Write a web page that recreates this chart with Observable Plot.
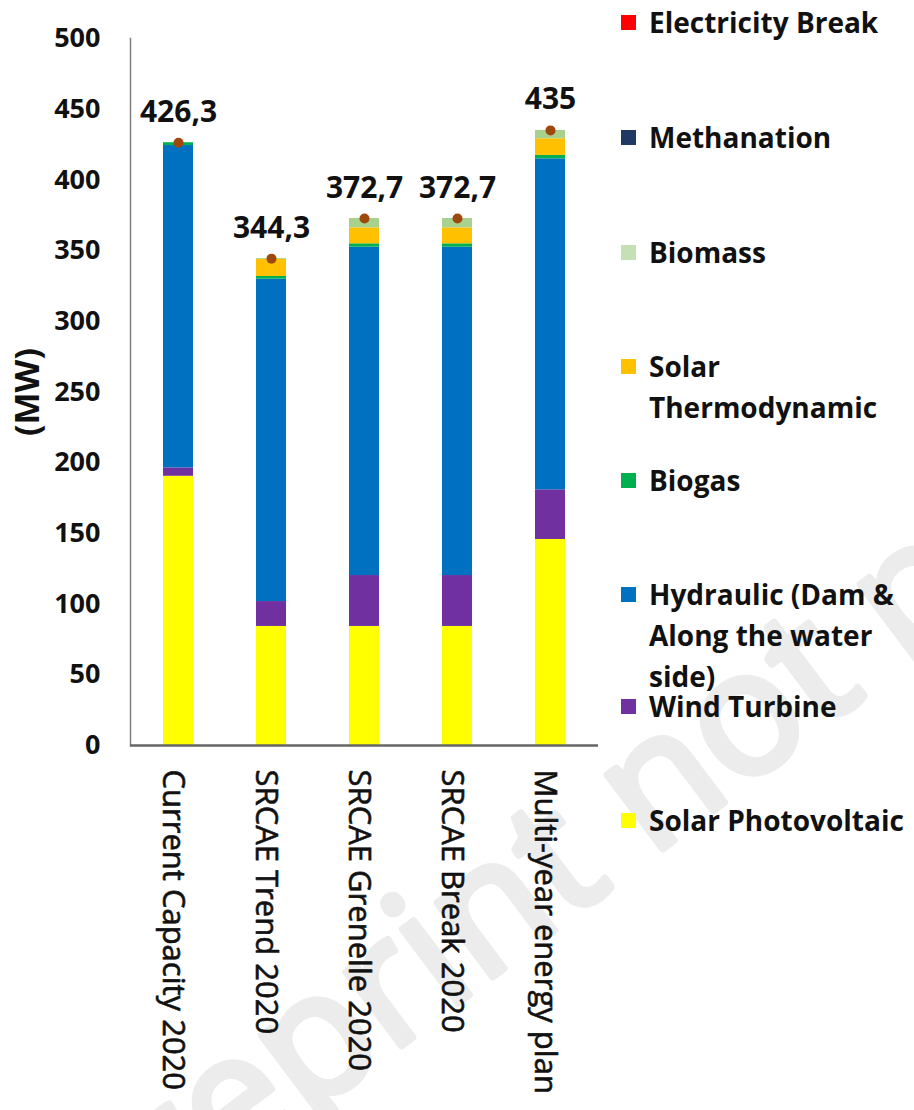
<!DOCTYPE html>
<html>
<head>
<meta charset="utf-8">
<script src="https://cdn.jsdelivr.net/npm/d3@7"></script>
<script src="https://cdn.jsdelivr.net/npm/@observablehq/plot@0.6"></script>
<style>
  body { margin: 0; background: #fff; }
  #wrap { position: relative; width: 914px; height: 1110px; overflow: hidden; background: #fff; }
  #watermark { position: absolute; left: 0; top: 0; }
  #chart { position: absolute; left: 0; top: 0; }
  #legend { position: absolute; left: 0; top: 0; font-family: "Open Sans", sans-serif; font-weight: bold; font-size: 28px; color: #111; }
  .entry { position: absolute; left: 621px; }
  .sw { position: absolute; left: 0; width: 15px; height: 15px; }
  .lbl { position: absolute; left: 28px; white-space: nowrap; line-height: 41px; }
</style>
</head>
<body>
<div id="wrap">
  <svg id="watermark" width="914" height="1110"></svg>
  <div id="chart"></div>
  <div id="legend"></div>
</div>
<script>
// ---- Data ----
const categories = ["Current Capacity 2020", "SRCAE Trend 2020", "SRCAE Grenelle 2020", "SRCAE Break 2020", "Multi-year energy plan"];
const seriesNames = ["Solar Photovoltaic", "Wind Turbine", "Hydraulic (Dam & Along the water side)", "Biogas", "Solar Thermodynamic", "Biomass", "Methanation", "Electricity Break"];
const seriesColors = ["#FFFF00", "#7030A0", "#0070C0", "#00B050", "#FFC000", "#A9D18E", "#203864", "#FF0000"];
const legendColors = ["#FFFF00", "#7030A0", "#0070C0", "#00B050", "#FFC000", "#C5E0B4", "#203864", "#FF0000"];

const solarPV          = [190.4, 84.2, 84.2, 84.2, 145.7];
const windTurbine      = [5.9, 17.6, 36.0, 36.0, 35.1];
const hydraulic        = [228.0, 228.0, 232.2, 232.2, 234.1];
const biogas           = [2.0, 1.9, 2.4, 2.4, 2.4];
const solarThermo      = [0, 12.0, 11.3, 11.3, 11.8];
const biomass          = [0, 0.6, 6.6, 6.6, 5.9];
const methanation      = [0, 0, 0, 0, 0];
const electricityBreak = [0, 0, 0, 0, 0];

const totals      = [426.3, 344.3, 372.7, 372.7, 435];
const totalLabels = ["426,3", "344,3", "372,7", "372,7", "435"];
const yTicks      = [0, 50, 100, 150, 200, 250, 300, 350, 400, 450, 500];
const yLabel      = "(MW)";

// ---- Build table ----
const seriesValues = [solarPV, windTurbine, hydraulic, biogas, solarThermo, biomass, methanation, electricityBreak];
const rows = [];
seriesNames.forEach((s, i) => categories.forEach((c, j) => {
  if (seriesValues[i][j] > 0) rows.push({category: c, series: s, value: seriesValues[i][j]});
}));
const totalRows = categories.map((c, j) => ({category: c, total: totals[j], label: totalLabels[j]}));

const chart = Plot.plot({
  width: 914,
  height: 1110,
  marginLeft: 130,
  marginRight: 316,
  marginTop: 38,
  marginBottom: 365,
  style: {background: "transparent", overflow: "visible"},
  x: {domain: categories, paddingInner: 0.68, paddingOuter: 0.34, axis: null},
  y: {domain: [0, 500], axis: null},
  color: {domain: seriesNames, range: seriesColors},
  marks: [
    Plot.barY(rows, {x: "category", y: "value", fill: "series", order: seriesNames}),
    Plot.axisY({ticks: yTicks, tickSize: 0, tickPadding: 30, label: null, fontSize: 27, fontWeight: "bold", fontFamily: "Open Sans", fill: "#111"}),
    Plot.frame({anchor: "left", stroke: "#7f7f7f", strokeWidth: 1.5}),
    Plot.ruleY([0], {stroke: "#666", strokeWidth: 2.5}),
    Plot.dot(totalRows, {x: "category", y: "total", r: 5, fill: "#9E480E", stroke: "none"}),
    Plot.text(totalRows, {x: "category", y: "total", text: "label", lineAnchor: "bottom", dy: -21, fontSize: 30, fontWeight: "bold", fontFamily: "Open Sans", fill: "#111"}),
    Plot.text(categories, {x: d => d, frameAnchor: "bottom", rotate: 90, textAnchor: "start", lineAnchor: "middle", dy: 24, dx: -6, fontSize: 31, fontFamily: "Open Sans", fill: "#111", stroke: "#111", strokeWidth: 0.6}),
    Plot.text([yLabel], {frameAnchor: "left", rotate: -90, dx: -102, textAnchor: "middle", lineAnchor: "middle", fontSize: 34, fontWeight: "bold", fontFamily: "Open Sans", fill: "#111"})
  ]
});
document.getElementById("chart").appendChild(chart);

// ---- Legend (top-down order as in the reference) ----
const legendLayout = [
  {name: "Electricity Break", lines: ["Electricity Break"], y: 22},
  {name: "Methanation", lines: ["Methanation"], y: 137},
  {name: "Biomass", lines: ["Biomass"], y: 252},
  {name: "Solar Thermodynamic", lines: ["Solar", "Thermodynamic"], y: 366},
  {name: "Biogas", lines: ["Biogas"], y: 480},
  {name: "Hydraulic (Dam & Along the water side)", lines: ["Hydraulic (Dam &", "Along the water", "side)"], y: 594},
  {name: "Wind Turbine", lines: ["Wind Turbine"], y: 706},
  {name: "Solar Photovoltaic", lines: ["Solar Photovoltaic"], y: 820}
];
const legend = document.getElementById("legend");
legendLayout.forEach(e => {
  const idx = seriesNames.indexOf(e.name);
  const div = document.createElement("div");
  div.className = "entry";
  div.style.top = (e.y - 20.5) + "px";
  const sw = document.createElement("div");
  sw.className = "sw";
  sw.style.background = legendColors[idx];
  sw.style.top = (20.5 - 7.5) + "px";
  div.appendChild(sw);
  const lbl = document.createElement("div");
  lbl.className = "lbl";
  lbl.innerHTML = e.lines.map(l => l.replace("&", "&amp;")).join("<br>");
  div.appendChild(lbl);
  legend.appendChild(div);
});

// ---- Watermark ----
const wm = d3.select("#watermark");
wm.append("text")
  .attr("transform", "translate(88,1282) rotate(-37)")
  .attr("font-family", "Open Sans")
  .attr("font-size", 173)
  .attr("fill", "#ececec")
  .attr("stroke", "#ececec")
  .attr("stroke-width", 7)
  .attr("stroke-linejoin", "round")
  .text("Preprint not peer reviewed");
</script>
</body>
</html>
